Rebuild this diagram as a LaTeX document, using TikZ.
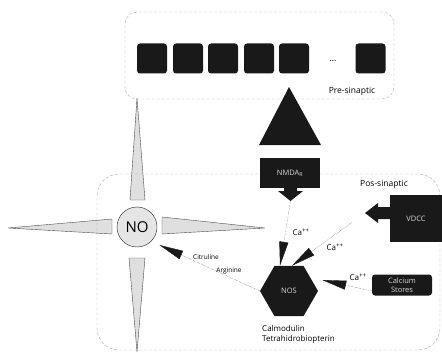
\documentclass[tikz,border=0pt]{standalone}
\usepackage{fontspec}
\setmainfont{Open Sans}
\usetikzlibrary{arrows.meta,shapes.geometric}
\definecolor{ink}{gray}{0.1}
\tikzset{
  blk/.style    = {fill=ink,text=white!85!black,inner sep=0pt},
  sq/.style     = {blk,rounded corners=3pt,minimum size=30pt},
  spike/.style  = {fill=gray!25,draw=black!70,thin},
  zone/.style   = {draw=gray!65,densely dashed,thin,inner sep=0pt},
  caarr/.style  = {-{Triangle[length=24pt,width=9pt,color=ink]},densely dotted,black!70},
  lbl/.style    = {font=\fontsize{8}{8}\selectfont,inner sep=0pt}
}
\newcommand{\fsz}[1]{\fontsize{#1}{#1}\selectfont}
\begin{document}
\begin{tikzpicture}[x=1pt,y=-1pt]
  \useasboundingbox[fill=white] (0,0) rectangle (442,353);
  % spikes round NO
  \draw[spike] (8,228) -- (112,219) -- (112,234) -- cycle;
  \draw[spike] (265,228) -- (162,217) -- (162,234) -- cycle;
  \draw[spike] (137,98) -- (130,200) -- (145,200) -- cycle;
  \draw[spike] (137,352) -- (129,258) -- (145,258) -- cycle;
  % pre- and post-synaptic zones
  \node[zone,rounded corners=12pt,minimum width=269pt,minimum height=87pt] (pre) at (259.5,55.5) {};
  \node[zone,rounded corners=22pt,minimum width=343pt,minimum height=176pt] (post) at (268.5,262) {};
  \node[font=\fsz{8.5},inner sep=0pt] (prelbl) at (352,91) {Pre-sinaptic};
  \node[font=\fsz{8.5},inner sep=0pt] (postlbl) at (384,184) {Pos-sinaptic};
  \foreach \i/\x in {0/152,1/188,2/223,3/259,4/294}
    \node[sq] (sq\i) at (\x,58.5) {};
  \node[font=\fsz{9},inner sep=0pt] (dots) at (333,61) {\dots};
  \node[sq] (sq5) at (370.5,58.5) {};
  % release
  \fill[ink] (289,87) -- (321,145) -- (259,145) -- cycle;
  \node[blk,minimum width=60pt,minimum height=30pt,font=\fsz{7.5}] (nmda) at (290,173) {NMDA\textsubscript{R}};
  \fill[ink] (284,188) -- (297,188) -- (297,191) -- (303,191) -- (290.5,201) -- (278,191) -- (284,191) -- cycle;
  \coordinate (nmdatip) at (290.5,201);
  \node[blk,minimum width=52pt,minimum height=47pt,font=\fsz{7.5}] (vdcc) at (416,218.5) {VDCC};
  \fill[ink] (391,207) -- (378,207) -- (378,203) -- (365,213) -- (378,223) -- (378,219) -- (391,219) -- cycle;
  \coordinate (vdcctip) at (365,213);
  \node[blk,rounded corners=3pt,minimum width=60pt,minimum height=21pt,align=center,font=\fontsize{7.5}{8.5}\selectfont] (stores) at (402,285) {Calcium\\Stores};
  \node[blk,regular polygon,regular polygon sides=6,minimum size=58pt,font=\fsz{7.5}] (nos) at (289,291) {NOS};
  \node[circle,fill=gray!20,draw=black!85,minimum size=40pt,inner sep=0pt,font=\fsz{15}] (no) at (137,227) {NO};
  \node[anchor=north west,align=left,inner sep=0pt,font=\fontsize{8}{10}\selectfont] (cofac) at (262,325) {Calmodulin\\Tetrahidrobiopterin};
  % calcium entry
  \draw[caarr] (nmdatip) -- ([xshift=-9pt]nos.north);
  \draw[caarr,shorten <=16pt] (vdcctip) -- ([xshift=3pt]nos.north);
  \draw[caarr] ([yshift=-6pt]stores.west) -- ([shift={(4pt,11pt)}]nos.east);
  \draw[caarr,shorten >=9pt] (nos.west) -- (no.south east);
  \node[lbl] (ca1) at (301,232) {Ca\textsuperscript{++}};
  \node[lbl] (ca2) at (335,247) {Ca\textsuperscript{++}};
  \node[lbl] (ca3) at (358,277) {Ca\textsuperscript{++}};
  \node[lbl,font=\fsz{6.5}] (citr) at (206,257) {Citruline};
  \node[lbl,font=\fsz{6.5}] (argi) at (229,271) {Arginine};
\end{tikzpicture}
\end{document}
